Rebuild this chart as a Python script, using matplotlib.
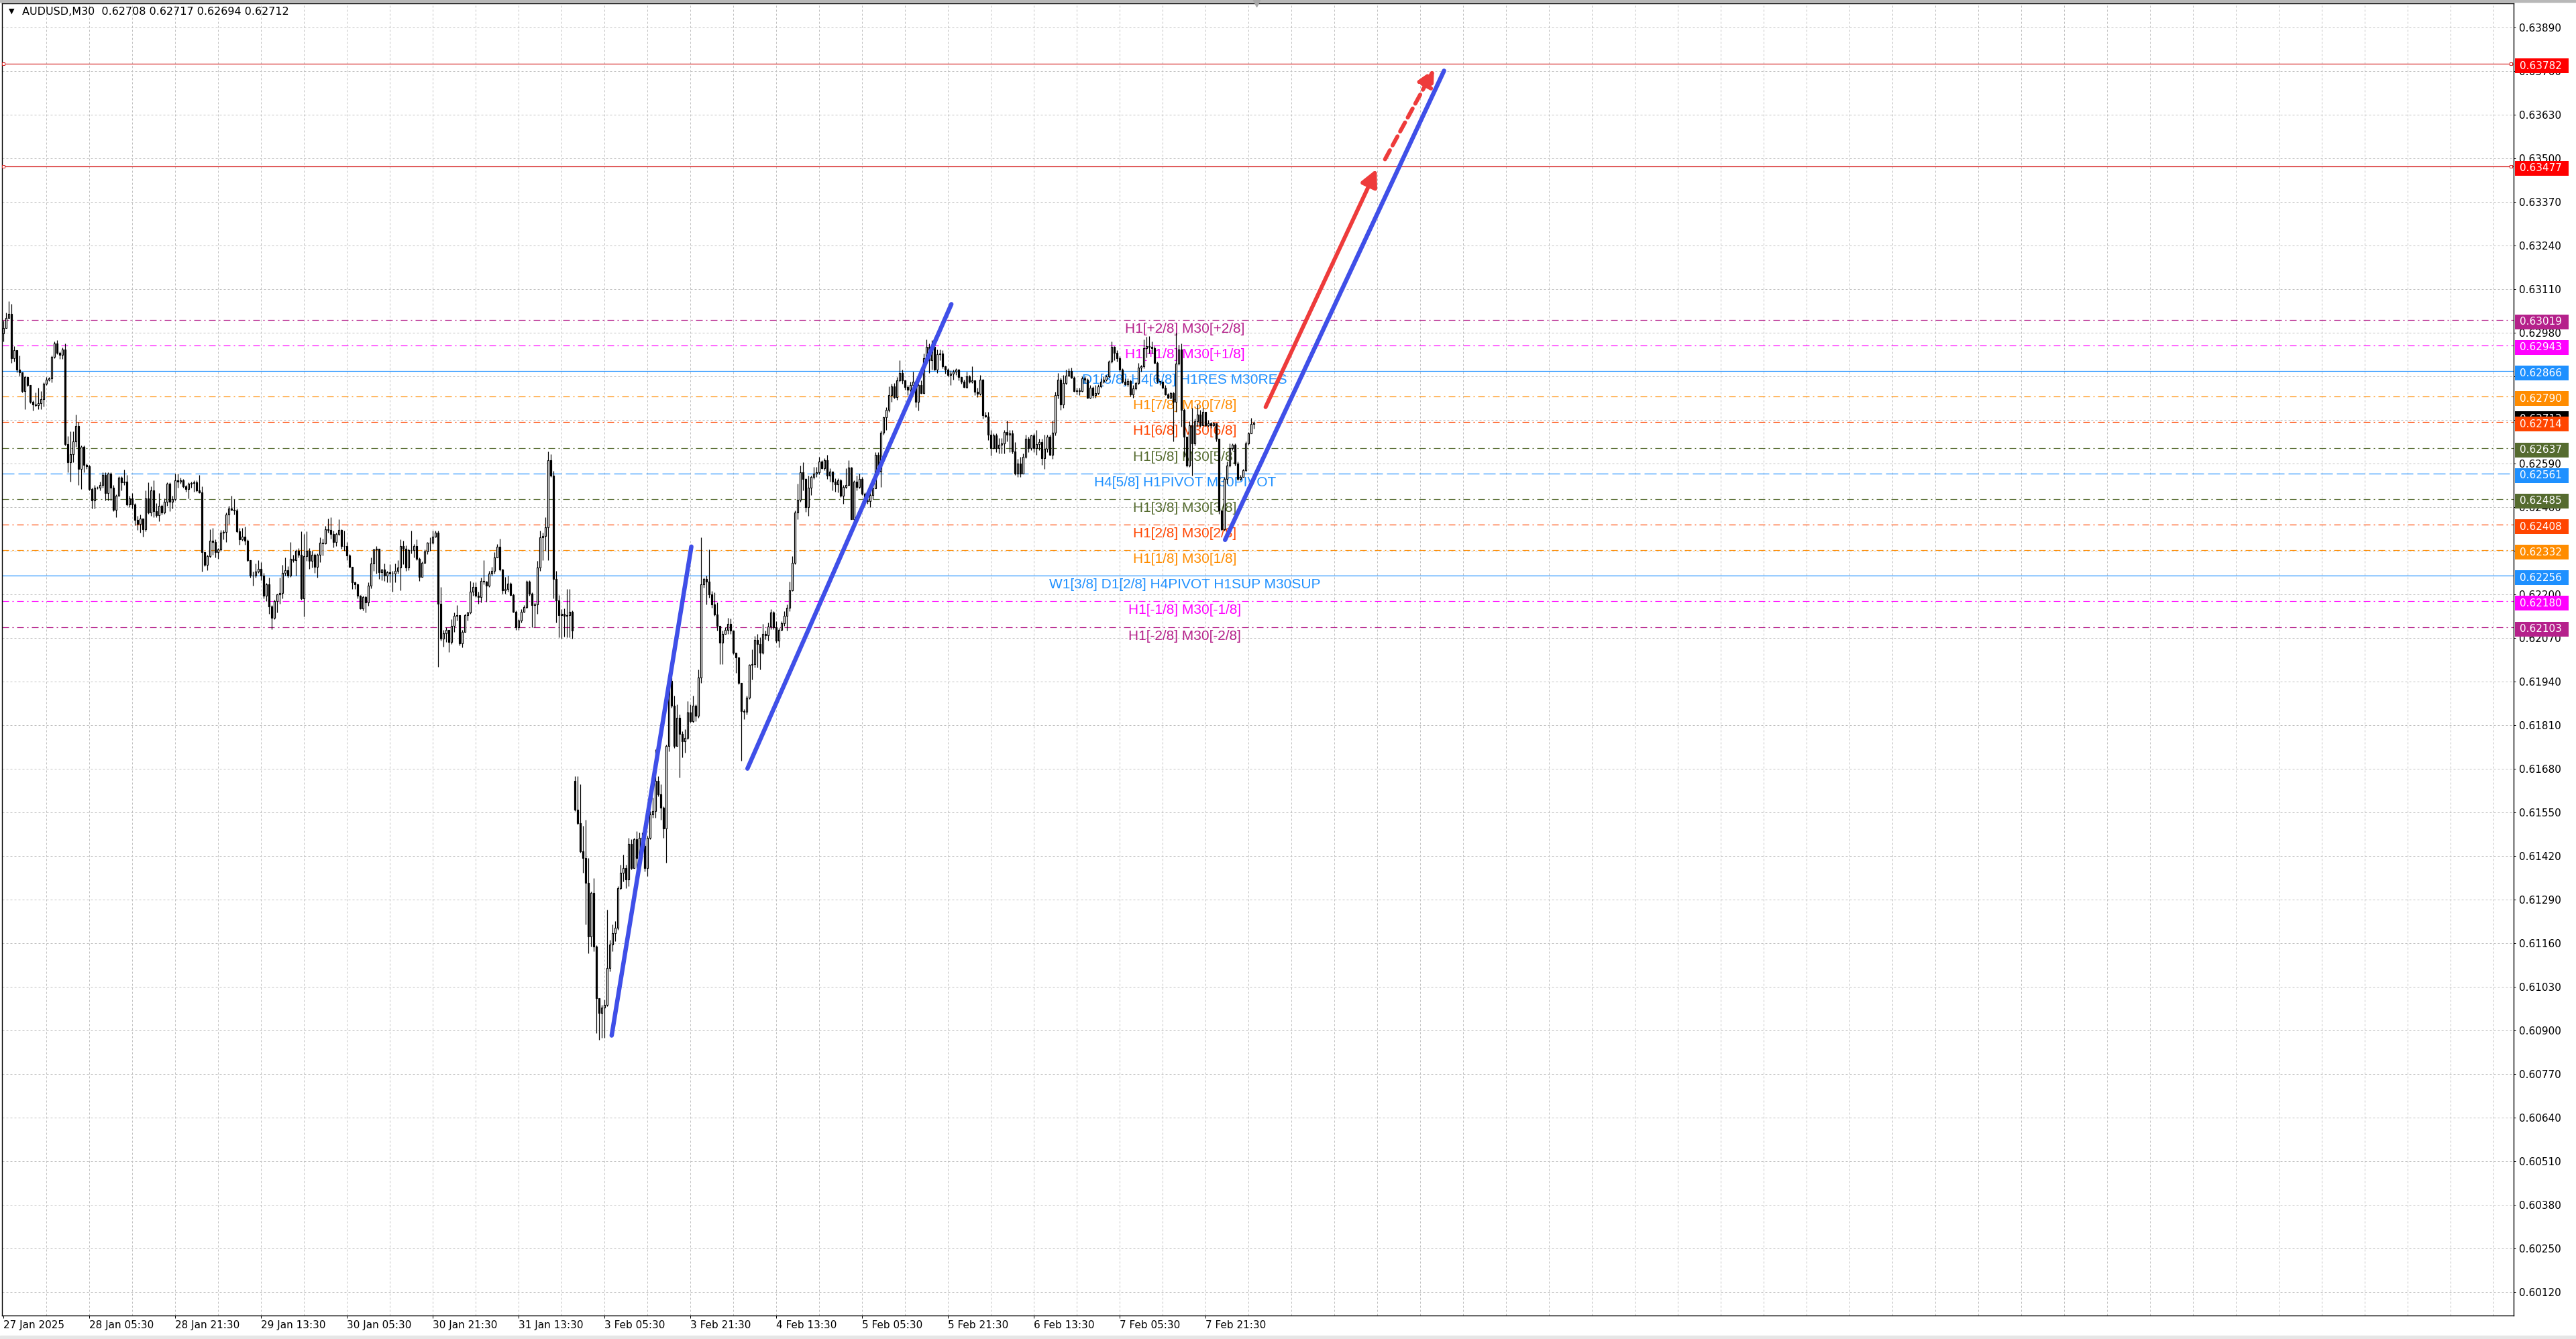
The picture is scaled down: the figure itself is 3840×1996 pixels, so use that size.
import numpy as np
import matplotlib
matplotlib.use('Agg')
import matplotlib.pyplot as plt
import matplotlib.transforms as mtransforms
from matplotlib.patches import Rectangle

# ---- data (prices in points, 1 point = 0.00001) ----
PT = 1e5
FIRST_OPEN = 62978
GAP_BAR = 213          # first bar after the weekend
GAP_OPEN = 61644

CLOSE_PTS = [
    62994, 63024, 63036, 62905, 62929, 62871, 62863, 62806, 62848, 62825,
    62775, 62767, 62765, 62771, 62783, 62829, 62840, 62844, 62909, 62948,
    62921, 62915, 62931, 62649, 62595, 62618, 62656, 62702, 62575, 62641,
    62587, 62583, 62514, 62480, 62518, 62518, 62526, 62556, 62503, 62560,
    62518, 62453, 62495, 62549, 62534, 62537, 62468, 62487, 62468, 62422,
    62411, 62426, 62395, 62487, 62445, 62510, 62449, 62437, 62464, 62445,
    62476, 62530, 62476, 62484, 62541, 62537, 62541, 62522, 62514, 62530,
    62533, 62535, 62510, 62505, 62326, 62288, 62315, 62361, 62357, 62326,
    62334, 62384, 62386, 62438, 62457, 62453, 62451, 62388, 62365, 62372,
    62361, 62303, 62257, 62257, 62269, 62276, 62257, 62196, 62230, 62165,
    62131, 62181, 62200, 62204, 62265, 62273, 62257, 62307, 62303, 62330,
    62319, 62188, 62315, 62330, 62300, 62319, 62282, 62319, 62354, 62352,
    62394, 62392, 62381, 62357, 62381, 62392, 62345, 62344, 62317, 62282,
    62236, 62230, 62196, 62159, 62193, 62176, 62226, 62293, 62334, 62337,
    62266, 62274, 62256, 62266, 62263, 62262, 62271, 62281, 62344, 62337,
    62280, 62332, 62332, 62345, 62307, 62253, 62295, 62328, 62354, 62354,
    62372, 62385, 62173, 62069, 62085, 62095, 62058, 62106, 62136, 62138,
    62055, 62089, 62139, 62146, 62209, 62223, 62196, 62193, 62240, 62238,
    62226, 62263, 62271, 62311, 62342, 62274, 62213, 62216, 62233, 62199,
    62149, 62102, 62122, 62149, 62162, 62238, 62203, 62169, 62171, 62281,
    62370, 62374, 62401, 62600, 62555, 62246, 62183, 62139, 62142, 62136,
    62139, 62149, 62092, 61559, 61519, 61435, 61415, 61340, 61181, 61311,
    61151, 60997, 60952, 60969, 60977, 61087, 61156, 61191, 61206, 61325,
    61370, 61385, 61350, 61457, 61385, 61470, 61415, 61475, 61450, 61385,
    61475, 61545, 61554, 61644, 61604, 61564, 61503, 61748, 61942, 61868,
    61748, 61833, 61785, 61763, 61773, 61848, 61823, 61868, 61838, 61952,
    62231, 62246, 62239, 62201, 62171, 62141, 62107, 62057, 62082, 62094,
    62113, 62092, 62027, 62012, 61937, 61853, 61850, 61893, 61990, 61992,
    62064, 62052, 62027, 62082, 62079, 62104, 62146, 62102, 62062, 62094,
    62114, 62136, 62161, 62213, 62294, 62445, 62483, 62564, 62544, 62461,
    62519, 62551, 62561, 62564, 62597, 62577, 62601, 62554, 62567, 62536,
    62529, 62541, 62494, 62521, 62527, 62579, 62424, 62537, 62521, 62545,
    62501, 62481, 62478, 62497, 62517, 62617, 62567, 62683, 62728, 62751,
    62794, 62821, 62788, 62838, 62861, 62838, 62818, 62811, 62824, 62834,
    62774, 62824, 62801, 62904, 62938, 62898, 62938, 62871, 62916, 62918,
    62881, 62871, 62854, 62859, 62864, 62871, 62848, 62834, 62818, 62850,
    62834, 62838, 62804, 62798, 62841, 62734, 62731, 62677, 62637, 62674,
    62637, 62647, 62650, 62684, 62677, 62681, 62627, 62561, 62591, 62561,
    62611, 62664, 62637, 62674, 62637, 62649, 62654, 62607, 62634, 62671,
    62617, 62683, 62794, 62841, 62767, 62831, 62852, 62867, 62847, 62807,
    62809, 62807, 62844, 62840, 62787, 62817, 62794, 62801, 62821, 62834,
    62841, 62851, 62894, 62938, 62921, 62904, 62871, 62834, 62827, 62837,
    62797, 62814, 62831, 62877, 62880, 62934, 62941, 62938, 62934, 62891,
    62837, 62834, 62817, 62797, 62787, 62801, 62774, 62888, 62931, 62751,
    62671, 62584, 62704, 62651, 62717, 62737, 62704, 62744, 62704, 62711,
    62704, 62711, 62664, 62450, 62394, 62544, 62584, 62637, 62647, 62590,
    62544, 62550, 62570, 62651, 62681, 62708, 62712,
]

HIGH_PTS = [
    63017, 63040, 63074, 63067, 62940, 62929, 62913, 62860, 62852, 62848,
    62825, 62779, 62802, 62817, 62806, 62833, 62848, 62848, 62913, 62955,
    62959, 62925, 62936, 62948, 62672, 62687, 62687, 62737, 62714, 62645,
    62645, 62590, 62587, 62518, 62526, 62522, 62537, 62564, 62564, 62564,
    62564, 62526, 62499, 62552, 62552, 62572, 62556, 62495, 62503, 62472,
    62434, 62438, 62426, 62510, 62534, 62522, 62541, 62472, 62503, 62468,
    62487, 62534, 62534, 62495, 62560, 62560, 62549, 62545, 62526, 62534,
    62537, 62541, 62541, 62556, 62522, 62326, 62319, 62395, 62399, 62365,
    62338, 62392, 62392, 62445, 62464, 62495, 62484, 62457, 62399, 62399,
    62403, 62365, 62303, 62269, 62292, 62303, 62296, 62265, 62234, 62250,
    62169, 62184, 62203, 62250, 62288, 62311, 62284, 62357, 62319, 62334,
    62338, 62388, 62380, 62388, 62338, 62330, 62323, 62323, 62370, 62367,
    62404, 62427, 62431, 62391, 62384, 62424, 62394, 62391, 62357, 62320,
    62282, 62238, 62233, 62199, 62196, 62196, 62236, 62310, 62337, 62344,
    62337, 62276, 62293, 62270, 62290, 62270, 62293, 62303, 62364, 62360,
    62347, 62337, 62391, 62350, 62364, 62310, 62298, 62334, 62357, 62370,
    62391, 62391, 62391, 62223, 62095, 62102, 62072, 62126, 62146, 62169,
    62138, 62095, 62142, 62149, 62240, 62236, 62236, 62209, 62250, 62303,
    62240, 62270, 62283, 62327, 62350, 62367, 62276, 62253, 62256, 62236,
    62203, 62152, 62126, 62156, 62169, 62243, 62243, 62206, 62176, 62300,
    62391, 62384, 62431, 62627, 62619, 62568, 62270, 62199, 62156, 62159,
    62216, 62216, 62152, 61659, 61659, 61634, 61510, 61529, 61415, 61315,
    61355, 61154, 60997, 60977, 60992, 61261, 61171, 61216, 61226, 61331,
    61395, 61425, 61395, 61475, 61470, 61475, 61495, 61490, 61490, 61465,
    61480, 61554, 61594, 61738, 61659, 61634, 61569, 61753, 61952, 61952,
    61898, 61873, 61843, 61793, 61798, 61883, 61873, 61898, 61873, 61977,
    62370, 62251, 62256, 62335, 62211, 62206, 62176, 62106, 62092, 62102,
    62131, 62129, 62092, 62027, 62012, 61937, 61858, 61898, 61992, 62037,
    62077, 62082, 62072, 62112, 62092, 62117, 62156, 62151, 62121, 62100,
    62121, 62151, 62171, 62239, 62314, 62451, 62531, 62584, 62594, 62547,
    62555, 62555, 62581, 62581, 62611, 62601, 62607, 62617, 62577, 62567,
    62547, 62547, 62544, 62527, 62577, 62601, 62581, 62541, 62555, 62561,
    62551, 62504, 62497, 62511, 62524, 62624, 62624, 62688, 62731, 62758,
    62821, 62828, 62831, 62848, 62898, 62871, 62841, 62824, 62834, 62864,
    62834, 62828, 62838, 62918, 62961, 62948, 62958, 62968, 62931, 62931,
    62928, 62883, 62874, 62868, 62871, 62874, 62872, 62844, 62841, 62864,
    62854, 62881, 62831, 62816, 62854, 62843, 62744, 62745, 62691, 62681,
    62681, 62667, 62667, 62691, 62718, 62691, 62691, 62654, 62604, 62611,
    62621, 62677, 62671, 62677, 62681, 62691, 62664, 62664, 62677, 62677,
    62677, 62718, 62804, 62861, 62847, 62854, 62871, 62874, 62876, 62851,
    62817, 62817, 62851, 62851, 62844, 62824, 62821, 62824, 62827, 62844,
    62851, 62854, 62898, 62954, 62941, 62928, 62911, 62874, 62844, 62844,
    62841, 62824, 62834, 62891, 62884, 62961, 62968, 62971, 62954, 62941,
    62894, 62837, 62834, 62824, 62801, 62804, 62804, 62981, 62944, 62948,
    62754, 62671, 62717, 62757, 62724, 62767, 62751, 62757, 62744, 62721,
    62714, 62714, 62711, 62664, 62450, 62551, 62597, 62651, 62651, 62651,
    62597, 62557, 62574, 62657, 62684, 62727, 62717,
]

LOW_PTS = [
    62955, 62994, 63024, 62890, 62894, 62863, 62852, 62802, 62752, 62820,
    62771, 62748, 62760, 62752, 62752, 62760, 62825, 62836, 62833, 62905,
    62917, 62902, 62902, 62645, 62564, 62537, 62595, 62641, 62526, 62514,
    62564, 62575, 62510, 62457, 62457, 62514, 62510, 62518, 62480, 62480,
    62480, 62449, 62430, 62495, 62510, 62526, 62464, 62461, 62457, 62407,
    62392, 62384, 62372, 62388, 62441, 62434, 62430, 62430, 62418, 62438,
    62441, 62464, 62449, 62457, 62480, 62518, 62530, 62518, 62507, 62487,
    62518, 62507, 62507, 62503, 62269, 62284, 62273, 62311, 62319, 62311,
    62307, 62330, 62365, 62357, 62411, 62450, 62438, 62384, 62349, 62361,
    62349, 62299, 62250, 62226, 62250, 62265, 62242, 62188, 62181, 62142,
    62096, 62127, 62146, 62173, 62188, 62257, 62250, 62253, 62296, 62257,
    62311, 62184, 62135, 62300, 62277, 62280, 62265, 62250, 62297, 62317,
    62350, 62384, 62367, 62340, 62344, 62377, 62337, 62330, 62303, 62280,
    62216, 62216, 62189, 62156, 62152, 62146, 62166, 62219, 62270, 62263,
    62246, 62243, 62240, 62236, 62236, 62209, 62236, 62263, 62213, 62290,
    62270, 62273, 62323, 62310, 62303, 62240, 62253, 62293, 62320, 62330,
    62350, 62370, 61985, 62062, 62045, 62058, 62028, 62052, 62089, 62122,
    62048, 62042, 62089, 62122, 62142, 62196, 62193, 62173, 62176, 62230,
    62179, 62223, 62256, 62263, 62310, 62270, 62203, 62203, 62209, 62196,
    62146, 62095, 62095, 62116, 62146, 62159, 62196, 62102, 62102, 62142,
    62270, 62303, 62330, 62303, 62550, 62189, 62116, 62072, 62069, 62075,
    62072, 62072, 62069, 61554, 61515, 61430, 61370, 61216, 61131, 61151,
    61136, 60893, 60873, 60878, 60878, 60972, 61077, 61136, 61166, 61201,
    61320, 61345, 61325, 61330, 61380, 61395, 61385, 61395, 61415, 61375,
    61360, 61470, 61534, 61534, 61599, 61529, 61475, 61400, 61733, 61863,
    61743, 61753, 61654, 61714, 61728, 61768, 61818, 61818, 61823, 61833,
    61937, 62221, 62171, 62191, 62161, 62136, 62092, 61992, 61992, 62082,
    62082, 62082, 62022, 61967, 61932, 61704, 61828, 61843, 61888, 61947,
    61982, 61982, 61977, 62022, 62067, 62062, 62097, 62097, 62057, 62042,
    62092, 62107, 62092, 62151, 62211, 62291, 62424, 62477, 62511, 62447,
    62434, 62497, 62544, 62551, 62559, 62574, 62571, 62544, 62537, 62511,
    62507, 62504, 62491, 62471, 62516, 62524, 62424, 62421, 62511, 62517,
    62497, 62464, 62471, 62461, 62484, 62517, 62564, 62521, 62677, 62691,
    62744, 62774, 62784, 62781, 62834, 62828, 62811, 62794, 62804, 62798,
    62758, 62748, 62798, 62798, 62901, 62861, 62871, 62868, 62861, 62898,
    62874, 62858, 62851, 62824, 62841, 62854, 62838, 62828, 62816, 62814,
    62831, 62831, 62794, 62788, 62794, 62724, 62728, 62661, 62614, 62634,
    62624, 62621, 62621, 62621, 62657, 62624, 62621, 62557, 62551, 62551,
    62564, 62607, 62624, 62631, 62624, 62617, 62631, 62587, 62574, 62624,
    62614, 62604, 62674, 62784, 62751, 62757, 62827, 62851, 62844, 62804,
    62797, 62794, 62804, 62831, 62784, 62784, 62787, 62787, 62797, 62817,
    62831, 62837, 62847, 62891, 62898, 62894, 62864, 62831, 62824, 62821,
    62791, 62787, 62811, 62827, 62864, 62874, 62907, 62918, 62918, 62888,
    62831, 62824, 62814, 62794, 62784, 62784, 62657, 62744, 62884, 62700,
    62611, 62580, 62580, 62554, 62644, 62701, 62701, 62704, 62701, 62701,
    62697, 62701, 62657, 62440, 62390, 62390, 62530, 62580, 62630, 62584,
    62540, 62540, 62550, 62567, 62647, 62681, 62694,
]

TIME_LABELS = ['27 Jan 2025', '28 Jan 05:30', '28 Jan 21:30', '29 Jan 13:30',
               '30 Jan 05:30', '30 Jan 21:30', '31 Jan 13:30', '3 Feb 05:30',
               '3 Feb 21:30', '4 Feb 13:30', '5 Feb 05:30', '5 Feb 21:30',
               '6 Feb 13:30', '7 Feb 05:30', '7 Feb 21:30']
TIME_LABEL_BARS = [0, 32, 64, 96, 128, 160, 192, 224, 256, 288, 320, 352, 384, 416, 448]

# Murrey-style levels
LEVEL_PRICES = [0.63019, 0.62943, 0.62866, 0.62790, 0.62714, 0.62637, 0.62561,
                0.62485, 0.62408, 0.62332, 0.62256, 0.62180, 0.62103]
LEVEL_TEXTS = ['H1[+2/8] M30[+2/8]', 'H1[+1/8] M30[+1/8]',
               'D1[3/8] H4[6/8] H1RES M30RES', 'H1[7/8] M30[7/8]',
               'H1[6/8] M30[6/8]', 'H1[5/8] M30[5/8]',
               'H4[5/8] H1PIVOT M30PIVOT', 'H1[3/8] M30[3/8]',
               'H1[2/8] M30[2/8]', 'H1[1/8] M30[1/8]',
               'W1[3/8] D1[2/8] H4PIVOT H1SUP M30SUP',
               'H1[-1/8] M30[-1/8]', 'H1[-2/8] M30[-2/8]']
LEVEL_COLORS = ['#B5218B', '#FF00FF', '#1E90FF', '#FF8C00', '#FF4500', '#556B2F',
                '#1E90FF', '#556B2F', '#FF4500', '#FF8C00', '#1E90FF', '#FF00FF',
                '#B5218B']
LEVEL_STYLES = ['dashdot', 'dashdot', 'solid', 'dashdot', 'dashdot', 'dashdot',
                'dashed', 'dashdot', 'dashdot', 'dashdot', 'solid', 'dashdot',
                'dashdot']
TARGET_PRICES = [0.63782, 0.63477]

# drawn objects: (bar, price) end points
TREND_LINES = [((226.7, 0.60885), (256.4, 0.62343)),
               ((277.3, 0.61681), (353.3, 0.63066)),
               ((455.3, 0.62363), (536.9, 0.63762))]
ARROW_SOLID = ((470.4, 0.62759), (511.8, 0.63469))
ARROW_DASHED = ((514.9, 0.63498), (533.2, 0.63767))

# ---- layout ----
W, H = 3840, 1996
DPI = 100
PX = 72.0 / DPI              # points per pixel
AX_L, AX_R, AX_T, AX_B = 3, 3747, 5, 1961
AX_W = AX_R - AX_L
AX_H = AX_B - AX_T
XMIN, XMAX = -0.5, 935.5
YMIN, YMAX = 0.60050, 0.63963
P_PER_PX = (YMAX - YMIN) / AX_H

plt.rcParams['font.family'] = ['DejaVu Sans']
plt.rcParams['lines.scale_dashes'] = False

GRID = '#C0C0C0'
BLUE = '#3F4FE8'
ARROW_RED = '#EE3B3B'
TARGET_RED = '#FF0000'

fig = plt.figure(figsize=(W / DPI, H / DPI), dpi=DPI, facecolor='white')
ax = fig.add_axes([AX_L / W, (H - AX_B) / H, AX_W / W, AX_H / H])
ax.set_xlim(XMIN, XMAX)
ax.set_ylim(YMIN, YMAX)
ax.set_facecolor('white')

# window frame bands
fig.add_artist(Rectangle((0, 1 - 3 / H), 1, 3 / H, transform=fig.transFigure,
                         color='#B8B8B8', zorder=0))
fig.add_artist(Rectangle((0, 0), 1, 5 / H, transform=fig.transFigure,
                         color='#E6E6E6', zorder=0))

# ---- grid ----
y_ticks = np.round(0.60120 + 0.0013 * np.arange(30), 5)
for yv in y_ticks:
    ax.axhline(yv, color=GRID, lw=PX, dashes=(3 * PX, 3 * PX), zorder=1)
for xv in range(16, int(XMAX), 16):
    ax.axvline(xv, color=GRID, lw=PX, dashes=(3 * PX, 3 * PX), zorder=1)

# ---- levels ----
DASH = {'dashdot': (10 * PX, 5 * PX, 2 * PX, 5 * PX),
        'dashed': (18 * PX, 6 * PX)}
for p, txt, col, st in zip(LEVEL_PRICES, LEVEL_TEXTS, LEVEL_COLORS, LEVEL_STYLES):
    if st == 'solid':
        ax.axhline(p, color=col, lw=1.2 * PX, zorder=2)
    else:
        ax.axhline(p, color=col, lw=1.2 * PX, dashes=DASH[st], zorder=2)
    ax.annotate(txt, xy=(440.3, p), xytext=(0, -4 * PX), textcoords='offset points',
                ha='center', va='top', fontsize=15, family='Liberation Sans',
                color=col, zorder=2.6)

for p in TARGET_PRICES:
    ax.axhline(p, color='#D42020', lw=1.2 * PX, zorder=2)
    ax.plot([0, XMAX - 1], [p, p], ls='none', marker='s', ms=5 * PX,
            mfc='white', mec='#D42020', mew=PX, zorder=3, clip_on=False)

# ---- candles ----
closes = np.array(CLOSE_PTS) / PT
highs = np.array(HIGH_PTS) / PT
lows = np.array(LOW_PTS) / PT
n = min(len(closes), len(highs), len(lows))
closes, highs, lows = closes[:n], highs[:n], lows[:n]
opens = np.r_[FIRST_OPEN / PT, closes[:-1]]
opens[GAP_BAR] = GAP_OPEN / PT
highs = np.maximum(highs, np.maximum(opens, closes))
lows = np.minimum(lows, np.minimum(opens, closes))
xb = np.arange(n)

ax.vlines(xb, lows, highs, color='black', lw=1.2 * PX, zorder=4)
up = closes >= opens
bottom = np.minimum(opens, closes)
height = np.abs(closes - opens)
ax.bar(xb[up], height[up], bottom=bottom[up], width=0.72, color='white',
       edgecolor='black', lw=1.2 * PX, zorder=5)
ax.bar(xb[~up], height[~up], bottom=bottom[~up], width=0.72, color='black',
       edgecolor='black', lw=1.2 * PX, zorder=5)

# ---- trend lines and arrows ----
for (x0, y0), (x1, y1) in TREND_LINES:
    ax.plot([x0, x1], [y0, y1], color=BLUE, lw=6.5 * PX,
            solid_capstyle='round', zorder=7)
ax.annotate('', xy=ARROW_SOLID[1], xytext=ARROW_SOLID[0],
            arrowprops=dict(arrowstyle='-|>,head_length=0.5,head_width=0.25',
                            color=ARROW_RED, lw=6 * PX, mutation_scale=30,
                            shrinkA=0, shrinkB=0, capstyle='round'),
            zorder=8)
ax.annotate('', xy=ARROW_DASHED[1], xytext=ARROW_DASHED[0],
            arrowprops=dict(arrowstyle='-|>,head_length=0.5,head_width=0.25',
                            color=ARROW_RED, lw=6 * PX, mutation_scale=30,
                            shrinkA=0, shrinkB=0, linestyle=(0, (11, 6))),
            zorder=8)

# ---- axes ----
for sp in ax.spines.values():
    sp.set_color('black')
    sp.set_linewidth(1.4 * PX)

ax.yaxis.tick_right()
ax.set_yticks(y_ticks)
ax.set_yticklabels(['%.5f' % t for t in y_ticks])
ax.tick_params(axis='y', which='both', left=False, right=True, labelleft=False,
               labelright=True, length=3 * PX, width=PX, pad=5 * PX,
               labelsize=11, colors='black')
ax.set_xticks(TIME_LABEL_BARS)
ax.set_xticklabels(TIME_LABELS)
ax.tick_params(axis='x', length=4 * PX, width=PX, pad=3 * PX, labelsize=11,
               colors='black')
for lbl in ax.get_xticklabels():
    lbl.set_horizontalalignment('left')

# ---- price boxes on the right scale ----
ytrans = mtransforms.blended_transform_factory(ax.transAxes, ax.transData)
BOX_X0 = 1 + 2 / AX_W
BOX_W = 80 / AX_W
BOX_H = 22 * P_PER_PX


def price_box(price, color, shift_px=0.0, z=10):
    yc = price + shift_px * P_PER_PX
    ax.add_patch(Rectangle((BOX_X0, yc - BOX_H / 2), BOX_W, BOX_H, transform=ytrans,
                           facecolor=color, edgecolor='none', clip_on=False,
                           zorder=z))
    ax.text(BOX_X0 + 7 / AX_W, yc, '%.5f' % price, transform=ytrans, color='white',
            fontsize=11, ha='left', va='center', zorder=z + 0.5, clip_on=False)


# bid label sits underneath the level labels
price_box(closes[-1], 'black', shift_px=6, z=8)
for p in TARGET_PRICES:
    price_box(p, TARGET_RED, shift_px=-3)
for p, col in zip(LEVEL_PRICES, LEVEL_COLORS):
    price_box(p, col, shift_px=-3)

# ---- header & shift marker ----
ax.text(10 / AX_W, 1 - 12 / AX_H, '\u25BC', transform=ax.transAxes, fontsize=8,
        ha='left', va='center', color='black', zorder=12)
ax.text(30 / AX_W, 1 - 12 / AX_H,
        'AUDUSD,M30  %.5f %.5f %.5f %.5f' % (opens[-1], highs[-1], lows[-1], closes[-1]),
        transform=ax.transAxes, fontsize=11.5, ha='left', va='center',
        color='black', zorder=12)
ax.plot([n], [YMAX], ls='none', marker='v', ms=10 * PX, color='#A8A8A8',
        clip_on=False, zorder=12)

fig.savefig('out.png', dpi=DPI, facecolor='white')
